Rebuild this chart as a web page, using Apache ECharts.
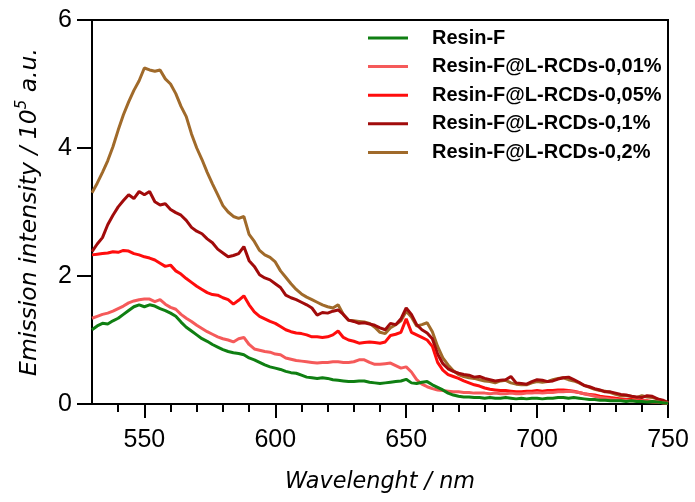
<!DOCTYPE html>
<html>
<head>
<meta charset="utf-8">
<script src="https://cdn.jsdelivr.net/npm/echarts@6/dist/echarts.min.js"></script>
<style>html,body{margin:0;padding:0;background:#fff}#c{width:695px;height:502px}</style>
</head>
<body>
<div id="c"></div>
<script>
const wavelength = [
530,532,534,536,538,540,542,544,546,548,
550,552,554,556,558,560,562,564,566,568,
570,572,574,576,578,580,582,584,586,588,
590,592,594,596,598,600,602,604,606,608,
610,612,614,616,618,620,622,624,626,628,
630,632,634,636,638,640,642,644,646,648,
650,652,654,656,658,660,662,664,666,668,
670,672,674,676,678,680,682,684,686,688,
690,692,694,696,698,700,702,704,706,708,
710,712,714,716,718,720,722,724,726,728,
730,732,734,736,738,740,742,744,746,748,
750];

const seriesNames = ['Resin-F','Resin-F@L-RCDs-0,01%','Resin-F@L-RCDs-0,05%','Resin-F@L-RCDs-0,1%','Resin-F@L-RCDs-0,2%'];

const resinF = [
1.16,1.22,1.26,1.25,1.30,1.34,1.40,1.46,1.52,1.55,
1.52,1.55,1.53,1.49,1.46,1.42,1.37,1.28,1.20,1.14,
1.08,1.02,0.98,0.93,0.89,0.85,0.82,0.80,0.79,0.77,
0.72,0.69,0.65,0.61,0.58,0.56,0.54,0.51,0.49,0.48,
0.45,0.42,0.41,0.40,0.41,0.40,0.38,0.37,0.36,0.35,
0.35,0.36,0.36,0.34,0.33,0.32,0.33,0.34,0.35,0.36,
0.385,0.33,0.32,0.34,0.35,0.30,0.26,0.22,0.17,0.14,
0.12,0.11,0.11,0.10,0.10,0.09,0.10,0.09,0.09,0.10,
0.09,0.08,0.09,0.08,0.09,0.09,0.08,0.09,0.09,0.10,
0.10,0.09,0.10,0.09,0.08,0.07,0.07,0.06,0.06,0.05,
0.05,0.05,0.04,0.05,0.04,0.04,0.03,0.04,0.03,0.02,
0.01];

const rcd001 = [
1.34,1.37,1.40,1.42,1.45,1.49,1.53,1.58,1.61,1.63,
1.64,1.64,1.60,1.63,1.56,1.51,1.48,1.40,1.34,1.29,
1.23,1.18,1.13,1.09,1.05,1.02,1.00,0.97,1.02,1.04,
0.93,0.86,0.84,0.82,0.81,0.78,0.77,0.72,0.70,0.68,
0.67,0.66,0.65,0.64,0.65,0.65,0.66,0.66,0.65,0.65,
0.66,0.69,0.69,0.65,0.62,0.62,0.63,0.64,0.60,0.56,
0.58,0.50,0.38,0.31,0.27,0.24,0.22,0.21,0.20,0.19,
0.19,0.18,0.18,0.17,0.17,0.17,0.16,0.17,0.16,0.16,
0.17,0.16,0.16,0.17,0.17,0.18,0.17,0.18,0.18,0.19,
0.19,0.20,0.19,0.18,0.16,0.14,0.12,0.10,0.09,0.08,
0.07,0.06,0.06,0.05,0.05,0.04,0.04,0.03,0.03,0.02,
0.01];

const rcd005 = [
2.33,2.34,2.35,2.36,2.38,2.37,2.40,2.39,2.35,2.33,
2.30,2.28,2.25,2.20,2.15,2.17,2.08,2.03,1.96,1.90,
1.84,1.79,1.74,1.71,1.70,1.66,1.63,1.56,1.62,1.69,
1.55,1.44,1.37,1.33,1.29,1.26,1.21,1.16,1.13,1.11,
1.10,1.08,1.05,1.05,1.04,1.05,1.08,1.14,1.04,1.00,
0.98,0.95,0.96,0.97,0.96,0.95,0.97,1.07,1.09,1.12,
1.33,1.12,1.08,1.04,1.00,0.90,0.65,0.53,0.46,0.43,
0.40,0.36,0.33,0.30,0.28,0.25,0.23,0.22,0.21,0.21,
0.20,0.19,0.19,0.20,0.20,0.21,0.20,0.21,0.21,0.22,
0.22,0.21,0.20,0.18,0.16,0.15,0.14,0.12,0.11,0.10,
0.09,0.08,0.07,0.07,0.06,0.05,0.05,0.04,0.03,0.02,
0.01];

const rcd01 = [
2.38,2.50,2.60,2.80,2.95,3.08,3.18,3.27,3.21,3.32,
3.27,3.32,3.16,3.11,3.13,3.04,2.99,2.95,2.87,2.76,
2.70,2.66,2.58,2.52,2.42,2.36,2.30,2.32,2.35,2.46,
2.24,2.15,2.02,1.97,1.94,1.88,1.82,1.70,1.66,1.63,
1.59,1.55,1.50,1.39,1.43,1.42,1.45,1.47,1.40,1.31,
1.29,1.26,1.27,1.25,1.23,1.19,1.16,1.26,1.24,1.33,
1.50,1.40,1.24,1.16,1.11,1.02,0.78,0.63,0.55,0.51,
0.48,0.46,0.45,0.42,0.43,0.40,0.38,0.36,0.37,0.38,
0.43,0.33,0.32,0.31,0.35,0.38,0.37,0.35,0.36,0.39,
0.41,0.42,0.38,0.34,0.29,0.27,0.24,0.22,0.19,0.19,
0.17,0.15,0.14,0.12,0.11,0.10,0.13,0.12,0.08,0.06,
0.02];

const rcd02 = [
3.30,3.45,3.62,3.80,4.02,4.28,4.52,4.72,4.90,5.05,
5.25,5.22,5.20,5.22,5.08,5.00,4.85,4.65,4.49,4.22,
4.00,3.82,3.62,3.44,3.27,3.10,3.00,2.93,2.90,2.93,
2.65,2.54,2.40,2.33,2.29,2.22,2.08,1.98,1.88,1.79,
1.72,1.67,1.63,1.59,1.55,1.52,1.50,1.55,1.40,1.31,
1.30,1.29,1.28,1.26,1.20,1.12,1.10,1.19,1.24,1.30,
1.45,1.36,1.22,1.24,1.27,1.13,0.90,0.72,0.61,0.52,
0.46,0.43,0.41,0.40,0.38,0.36,0.35,0.33,0.36,0.37,
0.33,0.31,0.30,0.30,0.33,0.35,0.34,0.35,0.38,0.40,
0.41,0.38,0.36,0.33,0.29,0.26,0.23,0.21,0.20,0.18,
0.15,0.13,0.13,0.12,0.10,0.13,0.11,0.10,0.08,0.05,
0.02];

const xMajorTicks = [550,600,650,700,750];
const xMinorTicks = [540,560,570,580,590,610,620,630,640,660,670,680,690,710,720,730,740];
const colors = ['#0f7f12','#f55a5a','#ff0d0d','#a10b0b','#a06a2a'];

const allValues = [resinF, rcd001, rcd005, rcd01, rcd02];
const drawOrder = [4,3,2,1,0];

const chart = echarts.init(document.getElementById('c'), null, {renderer:'canvas'});
const FONT = 'Liberation Sans, Arial, sans-serif';
const TFONT = 'DejaVu Sans, sans-serif';

chart.setOption({
  animation:false,
  backgroundColor:'#fff',
  grid:{left:92,right:27,top:20,bottom:98,show:true,borderColor:'#000',borderWidth:2,backgroundColor:'transparent'},
  legend:{
    data: seriesNames,
    orient:'vertical',
    left:368, top:28, padding:0,
    icon:'rect',
    itemWidth:40, itemHeight:3, itemGap:8.6,
    selectedMode:false,
    textStyle:{fontFamily:FONT,fontWeight:'bold',fontSize:20,color:'#000',lineHeight:20,padding:[0,0,0,19]}
  },
  xAxis:[{
    type:'value', min:530, max:750,
    position:'bottom',
    axisLine:{show:true,onZero:false,lineStyle:{color:'#000',width:2}},
    axisTick:{show:true,inside:false,length:8,customValues:xMinorTicks,lineStyle:{color:'#000',width:2}},
    axisLabel:{show:true,customValues:xMajorTicks,margin:24,fontFamily:FONT,fontSize:25,color:'#000'},
    splitLine:{show:false},
    name:'Wavelenght / nm', nameLocation:'middle', nameGap:67,
    nameTextStyle:{fontFamily:TFONT,fontStyle:'italic',fontSize:22.3,color:'#000'}
  },{
    type:'value', min:530, max:750,
    position:'bottom',
    axisLine:{show:false,onZero:false},
    axisTick:{show:true,inside:false,length:14,customValues:xMajorTicks,lineStyle:{color:'#000',width:2}},
    axisLabel:{show:false},
    splitLine:{show:false}
  }],
  yAxis:{
    type:'value', min:0, max:6, interval:2,
    axisLine:{show:true,onZero:false,lineStyle:{color:'#000',width:2}},
    axisTick:{show:true,inside:false,length:15,lineStyle:{color:'#000',width:2}},
    axisLabel:{margin:20,fontFamily:FONT,fontSize:25,color:'#000'},
    splitLine:{show:false},
    name:'Emission intensity / 10{sup|5} a.u.', nameLocation:'middle', nameGap:47, nameRotate:90,
    nameTextStyle:{fontFamily:TFONT,fontStyle:'italic',fontSize:23.5,lineHeight:30,color:'#000',
      rich:{sup:{fontFamily:TFONT,fontStyle:'italic',fontSize:15,color:'#000',verticalAlign:'top',lineHeight:15}}}
  },
  series: drawOrder.map(i => ({
    name: seriesNames[i],
    type:'line',
    xAxisIndex:0,
    showSymbol:false, symbol:'none',
    lineStyle:{color:colors[i],width:3},
    itemStyle:{color:colors[i]},
    data: wavelength.map((w,k)=>[w, allValues[i][k]])
  }))
});
</script>
</body>
</html>
